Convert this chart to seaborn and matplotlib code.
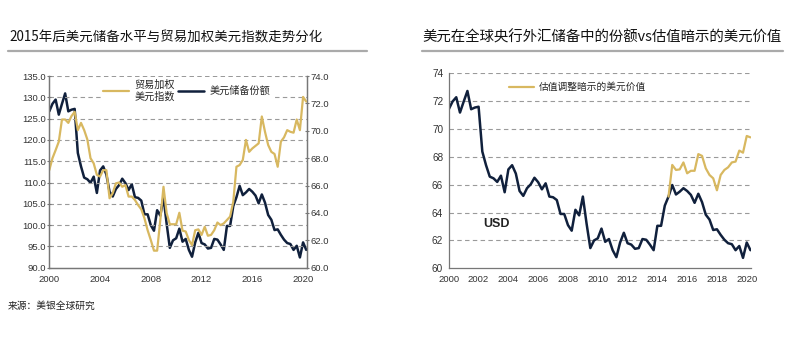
import numpy as np
import pandas as pd
import matplotlib
matplotlib.use('Agg')
import matplotlib.pyplot as plt
import seaborn as sns

# quarterly values, 2000Q1 - 2020Q2
usd_share = [71.42, 71.97, 72.28, 71.18,
             71.97, 72.73, 71.42, 71.54,
             71.6, 68.38, 67.4, 66.58,
             66.46, 66.2, 66.65, 65.46,
             67.1, 67.4, 66.8, 65.55,
             65.2, 65.75, 66.03, 66.5,
             66.18, 65.67, 66.1, 65.15,
             65.1, 64.9, 63.9, 63.9,
             63.1, 62.7, 64.2, 63.8,
             65.15, 63.2, 61.45, 62.0,
             62.15, 62.85, 61.9, 62.1,
             61.3, 60.8, 61.85, 62.55,
             61.8, 61.7, 61.4, 61.45,
             62.1, 62.05, 61.7, 61.3,
             63.05, 63.05, 64.5, 65.15,
             65.98, 65.3, 65.5, 65.75,
             65.55, 65.27, 64.7, 65.35,
             64.75, 63.85, 63.5, 62.75,
             62.8, 62.4, 62.05, 61.8,
             61.73, 61.3, 61.6, 60.75,
             61.85, 61.3]

trade_weighted = [112.9, 115.7, 117.6, 119.6,
                  124.8, 124.8, 124.0, 125.6,
                  126.6, 122.3, 124.0, 122.3,
                  120.1, 115.7, 114.5, 111.8,
                  111.4, 112.9, 112.9, 106.3,
                  107.5, 109.8, 110.0, 109.0,
                  109.4, 106.7, 106.7, 105.9,
                  104.7, 103.7, 101.6, 98.8,
                  96.5, 94.0, 94.0, 101.2,
                  109.0, 102.8, 100.2, 100.2,
                  100.2, 102.9, 98.7, 98.5,
                  96.5, 95.3, 98.8, 99.0,
                  97.7, 99.6, 97.5, 97.7,
                  98.8, 100.6, 100.0, 100.4,
                  101.2, 102.0, 105.5, 113.7,
                  114.1, 115.3, 120.0, 117.2,
                  118.0, 118.6, 119.2, 125.5,
                  121.9, 118.8, 117.2, 116.7,
                  113.7, 119.6, 120.6, 122.3,
                  121.9, 121.7, 124.8, 122.3,
                  130.1, 129.0]

# valuation-implied USD share, 2014Q4 - 2020Q2
valuation_implied = [65.15, 67.42, 67.06, 67.1, 67.6, 66.82, 67.0, 67.0,
                     68.2, 68.07, 67.18, 66.7, 66.46, 65.6, 66.7, 67.06,
                     67.25, 67.6, 67.66, 68.45, 68.3, 69.5, 69.4]

quarters = 2000 + np.arange(len(usd_share)) * 0.25
df = pd.DataFrame({'t': quarters, 'share': usd_share, 'twi': trade_weighted})
df_val = pd.DataFrame({'t': quarters[-len(valuation_implied):], 'val': valuation_implied})

left_ticks = [90, 95, 100, 105, 110, 115, 120, 125, 130, 135]
right_ticks_l = [60, 62, 64, 66, 68, 70, 72, 74]
years_l = [2000, 2004, 2008, 2012, 2016, 2020]
years_r = list(range(2000, 2021, 2))

title_l = '2015年后美元储备水平与贸易加权美元指数走势分化'
title_r = '美元在全球央行外汇储备中的份额vs估值暗示的美元价值'

sns.set_style('white')
plt.rcParams['font.family'] = ['Liberation Sans', 'DejaVu Sans']
CJK = ['Noto Sans CJK SC', 'DejaVu Sans']

GOLD = '#d8b860'
NAVY = '#10203c'
GRID = '#9a9a9a'

fig = plt.figure(figsize=(8, 3.52), dpi=100)

# ---------- left chart ----------
ax1 = fig.add_axes([0.0616, 0.2395, 0.322, 0.5445])
ax2 = ax1.twinx()
sns.lineplot(data=df, x='t', y='twi', ax=ax1, color=GOLD, lw=1.6, label='贸易加权\n美元指数')
sns.lineplot(data=df, x='t', y='share', ax=ax2, color=NAVY, lw=1.8, label='美元储备份额')
ax1.set_xlim(2000, 2020.3)
ax1.set_ylim(90, 135)
ax2.set_ylim(60, 74)
ax1.set_yticks(left_ticks)
ax1.set_yticklabels([f'{v:.1f}' for v in left_ticks], fontsize=6.8, color='#333333')
ax2.set_yticks(right_ticks_l)
ax2.set_yticklabels([f'{v:.1f}' for v in right_ticks_l], fontsize=6.8, color='#333333')
ax1.set_xticks(years_l)
ax1.set_xticklabels([str(y) for y in years_l], fontsize=6.8, color='#333333')
ax1.set_xlabel('')
ax1.set_ylabel('')
ax2.set_ylabel('')
for y in left_ticks[1:]:
    ax1.axhline(y, color=GRID, lw=0.8, ls=(0, (4, 3)), zorder=0)
for ax in (ax1, ax2):
    ax.spines['top'].set_visible(False)
    for s in ('left', 'right', 'bottom'):
        ax.spines[s].set_color('#777777')
        ax.spines[s].set_linewidth(0.9)
ax1.tick_params(axis='y', length=3, direction='inout', width=0.8, color='#777777', pad=1)
ax2.tick_params(axis='y', length=3, direction='inout', width=0.8, color='#777777', pad=1)
ax1.tick_params(axis='x', length=3, direction='in', width=0.8, color='#777777', pad=5)
h1, l1 = ax1.get_legend_handles_labels()
h2, l2 = ax2.get_legend_handles_labels()
if ax2.get_legend():
    ax2.get_legend().remove()
ax1.legend(h1 + h2, l1 + l2, ncol=2, loc='upper left', bbox_to_anchor=(0.18, 1.02),
           frameon=True, facecolor='white', edgecolor='none', framealpha=1,
           prop={'family': CJK, 'size': 7.3}, handlelength=2.6, columnspacing=0.3,
           handletextpad=0.5, borderpad=0.2)
ax1.set_zorder(ax2.get_zorder() + 1)
ax1.patch.set_visible(False)

# ---------- right chart ----------
ax3 = fig.add_axes([0.561, 0.2378, 0.378, 0.554])
sns.lineplot(data=df, x='t', y='share', ax=ax3, color=NAVY, lw=1.8, legend=False)
sns.lineplot(data=df_val, x='t', y='val', ax=ax3, color=GOLD, lw=1.6, label='估值调整暗示的美元价值')
ax3.set_xlim(2000, 2020.3)
ax3.set_ylim(60, 74)
ax3.set_yticks(right_ticks_l)
ax3.set_yticklabels([str(v) for v in right_ticks_l], fontsize=7.2, color='#333333')
ax3.set_xticks(years_r)
ax3.set_xticklabels([str(y) for y in years_r], fontsize=6.8, color='#333333')
ax3.set_xlabel('')
ax3.set_ylabel('')
for y in right_ticks_l[1:]:
    ax3.axhline(y, color=GRID, lw=0.8, ls=(0, (4, 3)), zorder=0)
ax3.spines['top'].set_visible(False)
ax3.spines['right'].set_visible(False)
for s in ('left', 'bottom'):
    ax3.spines[s].set_color('#777777')
    ax3.spines[s].set_linewidth(0.9)
ax3.tick_params(axis='y', length=0, pad=4)
ax3.tick_params(axis='x', length=2.5, direction='in', width=0.8, color='#777777', pad=5)
ax3.legend(loc='upper left', bbox_to_anchor=(0.17, 1.0), frameon=False,
           prop={'family': CJK, 'size': 7}, handlelength=2.6, handletextpad=0.5)
ax3.text(2002.3, 63.2, 'USD', fontsize=9, fontweight='bold', color='#222222', va='center')

# ---------- titles and notes ----------
fig.text(0.012, 0.893, title_l, family=CJK, fontsize=9.7, color='#111111', va='center')
fig.text(0.528, 0.893, title_r, family=CJK, fontsize=10.4, color='#111111', va='center')
fig.add_artist(plt.Line2D([0.01, 0.459], [0.855, 0.855], color='#aaaaaa', lw=1.6))
fig.add_artist(plt.Line2D([0.528, 0.979], [0.855, 0.855], color='#aaaaaa', lw=1.6))
fig.text(0.01, 0.13, '来源：美银全球研究', family=CJK, fontsize=7, color='#222222', va='center')

fig.savefig('out.png', dpi=100, facecolor='white')
